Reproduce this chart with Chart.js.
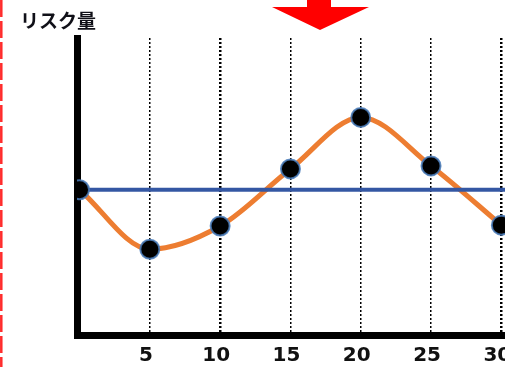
<!DOCTYPE html>
<html>
<head>
<meta charset="utf-8">
<style>
  html, body { margin: 0; padding: 0; background: #ffffff; overflow: hidden; }
  #wrap { position: relative; width: 505px; height: 367px; }
</style>
<script src="https://cdn.jsdelivr.net/npm/chart.js@4/dist/chart.umd.min.js"></script>
</head>
<body>
<div id="wrap"><canvas id="c" width="505" height="367"></canvas></div>
<script>
// Axis title and x-axis tick labels
const chartTitle = 'リスク量';
const xTicks = [5, 10, 15, 20, 25, 30];

// Risk curve (time vs. risk amount)
const riskX = [0, 5, 10, 15, 20, 25, 30];
const riskY = [49, 29, 36.8, 56, 73.3, 57, 37.1];

// Flat reference level
const baselineX = [0, 31];
const baselineY = [49, 49];

// Visible axis ranges
const xRange = [-0.18, 30.26];
const yRange = [0, 100];

const toPoints = (xs, ys) => xs.map((x, i) => ({ x: x, y: ys[i] }));

// Red dashed guide, red arrow and the axis caption
const decorations = {
  id: 'decorations',
  beforeDraw(chart) {
    const ctx = chart.ctx;
    ctx.save();
    ctx.strokeStyle = '#ff2b2b';
    ctx.lineWidth = 2.5;
    ctx.setLineDash([17, 4]);
    ctx.beginPath();
    ctx.moveTo(1.3, 0);
    ctx.lineTo(1.3, chart.height);
    ctx.stroke();
    ctx.setLineDash([]);

    ctx.fillStyle = '#ff0000';
    ctx.beginPath();
    ctx.moveTo(307, 0);
    ctx.lineTo(331, 0);
    ctx.lineTo(331, 7);
    ctx.lineTo(369, 7);
    ctx.lineTo(320, 30);
    ctx.lineTo(272, 7);
    ctx.lineTo(307, 7);
    ctx.closePath();
    ctx.fill();

    ctx.fillStyle = '#101018';
    ctx.font = 'bold 19px "Noto Sans CJK JP", sans-serif';
    ctx.textAlign = 'left';
    ctx.textBaseline = 'middle';
    ctx.fillText(chartTitle, 20, 21);
    ctx.restore();
  }
};

new Chart(document.getElementById('c'), {
  type: 'scatter',
  data: {
    datasets: [
      {
        // markers on top of everything
        data: toPoints(riskX, riskY),
        showLine: false,
        pointRadius: 9.5,
        pointBorderWidth: 2,
        pointBackgroundColor: '#000000',
        pointBorderColor: 'rgba(72,122,184,0.85)'
      },
      {
        data: toPoints(baselineX, baselineY),
        showLine: true,
        borderColor: '#3457a3',
        borderWidth: 4,
        pointRadius: 0
      },
      {
        data: toPoints(riskX, riskY),
        showLine: true,
        borderColor: '#ed7d31',
        borderWidth: 5,
        cubicInterpolationMode: 'monotone',
        pointRadius: 0
      }
    ]
  },
  options: {
    responsive: false,
    devicePixelRatio: 1,
    animation: false,
    events: [],
    layout: { autoPadding: false, padding: { left: 77, right: 0, top: 38, bottom: 0 } },
    plugins: {
      legend: { display: false },
      tooltip: { enabled: false },
      title: { display: false }
    },
    scales: {
      x: {
        type: 'linear',
        min: xRange[0],
        max: xRange[1],
        afterBuildTicks(scale) {
          scale.ticks = xTicks.map(v => ({ value: v }));
        },
        afterFit(scale) {
          scale.paddingLeft = 0;
          scale.paddingRight = 0;
          scale.height = 31.5;
        },
        border: { display: true, color: '#000000', width: 7, dash: [2, 2] },
        grid: {
          display: true,
          drawTicks: false,
          color: '#000000',
          lineWidth: ctx => (ctx.tick && (ctx.tick.value === 10 || ctx.tick.value === 30)) ? 2.5 : 1.5
        },
        ticks: {
          padding: 8,
          labelOffset: -4,
          maxRotation: 0,
          autoSkip: false,
          color: '#111111',
          font: { family: '"DejaVu Sans", sans-serif', size: 20, weight: 'bold' },
          callback: v => String(v)
        }
      },
      y: {
        type: 'linear',
        min: yRange[0],
        max: yRange[1],
        afterFit(scale) { scale.width = 0; },
        border: { display: true, color: '#000000', width: 7 },
        grid: { display: false, drawTicks: false },
        ticks: { display: false }
      }
    }
  },
  plugins: [decorations]
});
</script>
</body>
</html>
